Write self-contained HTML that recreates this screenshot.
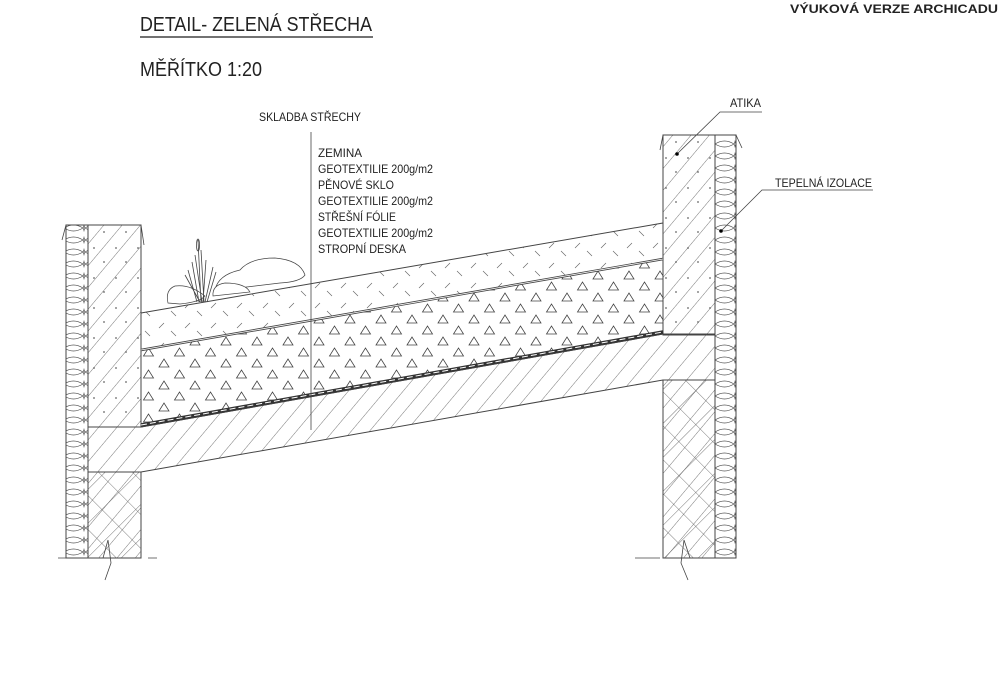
<!DOCTYPE html>
<html><head><meta charset="utf-8"><style>body{margin:0;background:#fff}svg{display:block}text{font-family:"Liberation Sans",sans-serif;fill:#222}</style></head><body>
<svg width="1000" height="696" viewBox="0 0 1000 696" xmlns="http://www.w3.org/2000/svg">
<defs>
<pattern id="diag" width="14" height="14" patternUnits="userSpaceOnUse" patternTransform="rotate(40)"><line x1="0" y1="0" x2="0" y2="14" stroke="#555" stroke-width="0.8"/></pattern>
<pattern id="dots" width="22" height="30" patternUnits="userSpaceOnUse"><circle cx="6" cy="8" r="0.9" fill="#666"/><circle cx="16" cy="22" r="0.9" fill="#666"/></pattern>
<pattern id="brick" width="24" height="24" patternUnits="userSpaceOnUse" patternTransform="rotate(45)"><path d="M0 0V24M0 0H24" stroke="#555" stroke-width="0.8"/></pattern>
<pattern id="ins" width="21" height="12" patternUnits="userSpaceOnUse"><path d="M1 0 Q10.5 6 20 0 M1 12 Q10.5 6 20 12 M1 0Q-2 6 1 12 M20 0Q23 6 20 12" fill="none" stroke="#555" stroke-width="0.7"/></pattern>
<pattern id="tri" width="31" height="22" patternUnits="userSpaceOnUse"><path d="M4 15l5-8 5 8z M19.5 4l5-8 5 8z M19.5 26l5-8 5 8z" fill="none" stroke="#444" stroke-width="0.8"/></pattern>
<pattern id="soil" width="26" height="20" patternUnits="userSpaceOnUse"><path d="M3 8l5-5 M15 11l5 5" stroke="#666" stroke-width="0.7"/></pattern>
</defs>

<rect x="66" y="225" width="22" height="333" fill="url(#ins)" stroke="#444"/>
<rect x="88" y="225" width="53" height="202" fill="url(#diag)" stroke="#444"/>
<rect x="88" y="225" width="53" height="202" fill="url(#dots)"/>
<rect x="88" y="472" width="53" height="86" fill="url(#brick)" stroke="#444"/>
<rect x="88" y="472" width="53" height="86" fill="url(#diag)"/>
<rect x="715" y="135" width="21" height="423" fill="url(#ins)" stroke="#444"/>
<rect x="663" y="135" width="52" height="200" fill="url(#diag)" stroke="#444"/>
<rect x="663" y="135" width="52" height="200" fill="url(#dots)"/>
<rect x="663" y="380" width="52" height="178" fill="url(#brick)" stroke="#444"/>
<rect x="663" y="380" width="52" height="178" fill="url(#diag)"/>
<path d="M88 427H141L663 334H715V380H663L141 472H88Z" fill="url(#diag)" stroke="#444"/>
<path d="M141 350L663 259V334L141 427Z" fill="url(#tri)" stroke="#444"/>
<path d="M141 313L663 223V259L141 350Z" fill="url(#soil)" stroke="#444"/>
<path d="M141 350L663 259" stroke="#444" stroke-width="2.5"/>
<path d="M141 350L663 259" stroke="#fff" stroke-width="0.8"/>
<path d="M141 425L663 332" stroke="#333" stroke-width="3.5"/>
<path d="M141 425L663 332" stroke="#fff" stroke-width="1" stroke-dasharray="6 3"/>
<g fill="#fff" stroke="#444" stroke-width="0.7">
<path d="M168 303 Q165 290 175 286 Q190 284 205 296 Q200 302 180 304Z"/>
<path d="M215 290 Q218 275 240 270 Q250 258 275 258 Q300 260 305 275 Q300 282 280 283 L230 289Z"/>
<path d="M213 296 Q212 285 225 283 Q245 283 250 292Z"/>
</g>
<g fill="none" stroke="#444" stroke-width="0.8">
<path d="M197 302L188 270M199 302L192 262M201 302L198 240M203 302L206 260M205 302L213 267M207 302L216 272M202 302L195 255M204 302L201 250M200 302L185 275"/>
<ellipse cx="198" cy="245" rx="1.5" ry="6"/>
</g>
<g fill="none" stroke="#444" stroke-width="0.8">
<path d="M58 558H80M148 558H157M103 558L108 540L111 563L105 580"/>
<path d="M635 558H660M690 558L684 540L681 563L688 580"/>
<path d="M62 240L66 225M141 225L144 245M660 150L663 135M736 135L742 148"/>
</g>
<g stroke="#444" stroke-width="0.8" fill="none">
<line x1="311" y1="132" x2="311" y2="430"/>
<path d="M677 154L720 112H762"/>
<path d="M721 231L762 190H873"/>
<line x1="140" y1="37" x2="373" y2="37" stroke-width="1.5"/>
</g>
<circle cx="677" cy="154" r="1.8" fill="#000"/><circle cx="721" cy="231" r="1.8" fill="#000"/>
<text x="140" y="31" font-size="20" textLength="232" lengthAdjust="spacingAndGlyphs">DETAIL- ZELENÁ STŘECHA</text>
<text x="140" y="76" font-size="20" textLength="122" lengthAdjust="spacingAndGlyphs">MĚŘÍTKO 1:20</text>
<text x="790" y="13" font-size="12" font-weight="bold" textLength="208" lengthAdjust="spacingAndGlyphs" fill="#444">VÝUKOVÁ VERZE ARCHICADU</text>
<g font-size="12">
<text x="259" y="121" textLength="102" lengthAdjust="spacingAndGlyphs">SKLADBA STŘECHY</text>
<text x="318" y="157" textLength="44" lengthAdjust="spacingAndGlyphs">ZEMINA</text>
<text x="318" y="173" textLength="115" lengthAdjust="spacingAndGlyphs">GEOTEXTILIE 200g/m2</text>
<text x="318" y="189" textLength="76" lengthAdjust="spacingAndGlyphs">PĚNOVÉ SKLO</text>
<text x="318" y="205" textLength="115" lengthAdjust="spacingAndGlyphs">GEOTEXTILIE 200g/m2</text>
<text x="318" y="221" textLength="78" lengthAdjust="spacingAndGlyphs">STŘEŠNÍ FÓLIE</text>
<text x="318" y="237" textLength="115" lengthAdjust="spacingAndGlyphs">GEOTEXTILIE 200g/m2</text>
<text x="318" y="253" textLength="88" lengthAdjust="spacingAndGlyphs">STROPNÍ DESKA</text>
<text x="730" y="107" textLength="31" lengthAdjust="spacingAndGlyphs">ATIKA</text>
<text x="775" y="187" textLength="97" lengthAdjust="spacingAndGlyphs">TEPELNÁ IZOLACE</text>
</g>
</svg>
</body></html>
